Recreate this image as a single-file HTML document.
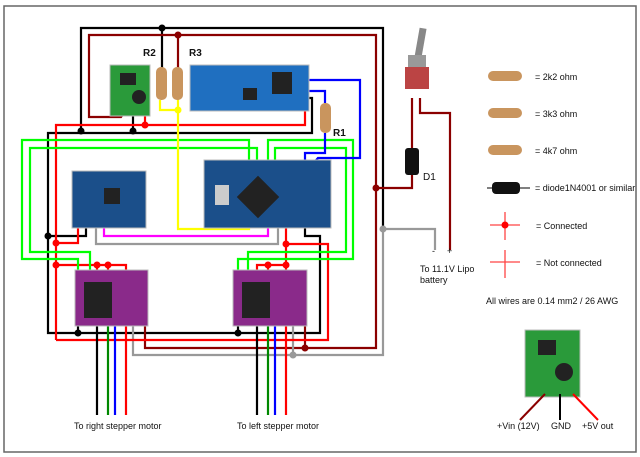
<!DOCTYPE html>
<html><head><meta charset="utf-8"><style>
body{margin:0;background:#fff}
svg{display:block;font-family:"Liberation Sans","DejaVu Sans",sans-serif}
text{font-size:9px;fill:#111}
</style></head><body>
<svg width="640" height="457" viewBox="0 0 640 457" xmlns="http://www.w3.org/2000/svg">
<rect x="4" y="6" width="632" height="446" fill="#fff" stroke="#666" stroke-width="1.5"/>
<g fill="none" stroke-width="2.2" stroke-linejoin="miter">
<polyline stroke="#000" points="81,131 81,28 383,28 383,229"/>
<polyline stroke="#000" points="162,28 162,70"/>
<polyline stroke="#000" points="48,236 48,133 312,133 312,98 305,98"/>
<polyline stroke="#000" points="48,236 48,333 320,333 320,236 305,236 305,228"/>
<polyline stroke="#000" points="133,131 133,110"/>
<polyline stroke="#000" points="48,236 86,236 86,228"/>
<polyline stroke="#000" points="78,320 78,333"/><polyline stroke="#000" points="238,320 238,333"/>
<polyline stroke="#8b0000" points="126,110 121,117 89,117 89,35 376,35 376,348 145,348 145,320"/>
<polyline stroke="#8b0000" points="178,35 178,70"/>
<polyline stroke="#8b0000" points="305,320 305,348"/>
<polyline stroke="#8b0000" points="376,188 412,188 412,175"/>
<polyline stroke="#8b0000" points="412,148 412,98"/>
<polyline stroke="#8b0000" points="420,98 420,113 450,113 450,250"/>
<polyline stroke="#999" points="383,229 383,355 133,355 133,320"/>
<polyline stroke="#999" points="383,229 435,229 435,250"/>
<polyline stroke="#999" points="293,320 293,355"/>
<polyline stroke="#999" points="96,228 96,244 278,244 278,215"/>
<polyline stroke="#f00" points="56,340 56,125 305,125 305,110"/>
<polyline stroke="#f00" points="145,125 145,110"/>
<polyline stroke="#f00" points="56,243 78,243 78,228"/>
<polyline stroke="#f00" points="56,265 126,265 126,272"/>
<polyline stroke="#f00" points="97,265 97,272"/><polyline stroke="#f00" points="108,265 108,272"/>
<polyline stroke="#f00" points="56,340 328,340 328,244 286,244"/>
<polyline stroke="#f00" points="286,228 286,272"/>
<polyline stroke="#f00" points="257,272 257,265 286,265"/><polyline stroke="#f00" points="268,265 268,272"/>
<polyline stroke="#0f0" points="78,274 78,259 22,259 22,140 249,140 249,165"/>
<polyline stroke="#0f0" points="90,274 90,252 30,252 30,148 257,148 257,165"/>
<polyline stroke="#0f0" points="268,165 268,140 353,140 353,259 238,259 238,274"/>
<polyline stroke="#0f0" points="275,165 275,148 346,148 346,252 248,252 248,274"/>
<polyline stroke="#00f" points="304,80 360,80 360,158 318,158 312,165"/>
<polyline stroke="#00f" points="304,91 325,91 325,103"/>
<polyline stroke="#00f" points="325,133 325,153 305,153 305,165"/>
<polyline stroke="#ff0" points="160,100 160,110 178,110"/>
<polyline stroke="#ff0" points="178,70 178,229 249,229 249,218"/>
<polyline stroke="#f0f" points="104,228 104,236 268,236 268,208"/>
<polyline stroke="#000" points="97,320 97,415"/><polyline stroke="#080" points="108,320 108,415"/><polyline stroke="#00f" points="115,320 115,415"/><polyline stroke="#f00" points="126,320 126,415"/>
<polyline stroke="#000" points="257,320 257,415"/><polyline stroke="#080" points="268,320 268,415"/><polyline stroke="#00f" points="275,320 275,415"/><polyline stroke="#f00" points="286,320 286,415"/>
</g>
<g>
<circle cx="162" cy="28" r="3.5"/><circle cx="81" cy="131" r="3.5"/><circle cx="133" cy="131" r="3.5"/><circle cx="48" cy="236" r="3.5"/><circle cx="78" cy="333" r="3.5"/><circle cx="238" cy="333" r="3.5"/>
<circle cx="178" cy="35" r="3.5" fill="#8b0000"/><circle cx="376" cy="188" r="3.5" fill="#8b0000"/><circle cx="305" cy="348" r="3.5" fill="#8b0000"/>
<circle cx="383" cy="229" r="3.5" fill="#999"/><circle cx="293" cy="355" r="3.5" fill="#999"/>
<circle cx="145" cy="125" r="3.5" fill="#f00"/><circle cx="56" cy="243" r="3.5" fill="#f00"/><circle cx="56" cy="265" r="3.5" fill="#f00"/><circle cx="97" cy="265" r="3.5" fill="#f00"/><circle cx="108" cy="265" r="3.5" fill="#f00"/><circle cx="286" cy="244" r="3.5" fill="#f00"/><circle cx="286" cy="265" r="3.5" fill="#f00"/><circle cx="268" cy="265" r="3.5" fill="#f00"/>
<circle cx="178" cy="110" r="3.5" fill="#ff0"/>
</g>
<rect x="110" y="65" width="40" height="51" fill="#2a9a3a" stroke="#bbb"/>
<rect x="120" y="73" width="16" height="12" fill="#222"/><circle cx="139" cy="97" r="7" fill="#222"/>
<rect x="190" y="65" width="119" height="46" fill="#1f6fc0" stroke="#bbb"/>
<rect x="272" y="72" width="20" height="22" fill="#222"/><rect x="243" y="88" width="14" height="12" fill="#222"/>
<rect x="72" y="171" width="74" height="57" fill="#1b4f8a" stroke="#bbb"/>
<rect x="104" y="188" width="16" height="16" fill="#222"/>
<rect x="204" y="160" width="127" height="68" fill="#1b4f8a" stroke="#bbb"/>
<rect x="243" y="182" width="30" height="30" fill="#222" transform="rotate(45 258 197)"/>
<rect x="215" y="185" width="14" height="20" fill="#ccc"/>
<rect x="75" y="270" width="73" height="56" fill="#8a2a8a" stroke="#bbb"/>
<rect x="84" y="282" width="28" height="36" fill="#222"/>
<rect x="233" y="270" width="74" height="56" fill="#8a2a8a" stroke="#bbb"/>
<rect x="242" y="282" width="28" height="36" fill="#222"/>
<rect x="156" y="67" width="11" height="33" rx="5" fill="#c9955e"/><rect x="172" y="67" width="11" height="33" rx="5" fill="#c9955e"/>
<rect x="320" y="103" width="11" height="30" rx="5" fill="#c9955e"/>
<text x="143" y="56" style="font-size:10px;font-weight:bold">R2</text><text x="189" y="56" style="font-size:10px;font-weight:bold">R3</text><text x="333" y="136" style="font-size:10px;font-weight:bold">R1</text>
<rect x="417" y="28" width="7" height="30" fill="#888" transform="rotate(10 420 43)"/>
<rect x="408" y="55" width="18" height="12" fill="#999"/><rect x="405" y="67" width="24" height="22" fill="#b44"/>
<rect x="405" y="148" width="14" height="27" rx="3" fill="#111"/><text x="423" y="180" style="font-size:10px">D1</text>
<text x="432" y="254">-</text><text x="447" y="254">+</text>
<text x="420" y="272">To 11.1V Lipo</text><text x="420" y="283">battery</text>
<rect x="488" y="71" width="34" height="10" rx="5" fill="#c9955e"/><text x="535" y="80">= 2k2 ohm</text>
<rect x="488" y="108" width="34" height="10" rx="5" fill="#c9955e"/><text x="535" y="117">= 3k3 ohm</text>
<rect x="488" y="145" width="34" height="10" rx="5" fill="#c9955e"/><text x="535" y="154">= 4k7 ohm</text>
<line x1="487" y1="188" x2="530" y2="188" stroke="#000"/><rect x="492" y="182" width="28" height="12" rx="4" fill="#111"/><text x="535" y="191">= diode1N4001 or similar</text>
<g stroke="#f44" stroke-width="1.3"><line x1="490" y1="225" x2="520" y2="225"/><line x1="505" y1="212" x2="505" y2="240"/><line x1="490" y1="262" x2="520" y2="262"/><line x1="505" y1="250" x2="505" y2="278"/></g>
<circle cx="505" cy="225" r="3.5" fill="#f00"/>
<text x="536" y="229">= Connected</text><text x="536" y="266">= Not connected</text>
<text x="486" y="304">All wires are 0.14 mm2 / 26 AWG</text>
<rect x="525" y="330" width="55" height="67" fill="#2a9a3a" stroke="#bbb"/>
<rect x="538" y="340" width="18" height="15" fill="#222"/><circle cx="564" cy="372" r="9" fill="#222"/>
<g stroke-width="2" fill="none"><line x1="545" y1="394" x2="520" y2="420" stroke="#8b0000"/><line x1="560" y1="394" x2="560" y2="420" stroke="#000"/><line x1="573" y1="394" x2="598" y2="420" stroke="#f00"/></g>
<text x="497" y="429">+Vin (12V)</text><text x="551" y="429">GND</text><text x="582" y="429">+5V out</text>
<text x="74" y="429">To right stepper motor</text><text x="237" y="429">To left stepper motor</text>
</svg>
</body></html>
